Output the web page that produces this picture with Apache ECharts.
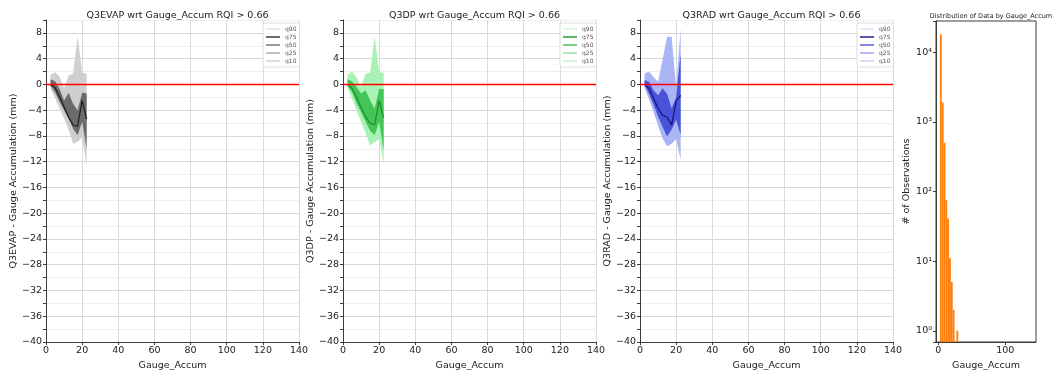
<!DOCTYPE html>
<html>
<head>
<meta charset="utf-8">
<script src="https://cdn.jsdelivr.net/npm/echarts@6/dist/echarts.min.js"></script>
<style>
  html, body { margin: 0; padding: 0; background: #fff; }
  #main { width: 1056px; height: 371px; }
</style>
</head>
<body>
<div id="main"></div>
<script>
// Gauge_Accum bin centres (mm)
const gaugeX = [2.5, 5, 7.5, 10, 12.5, 15, 17.5, 20, 22.5];

// Q3EVAP - gauge, quantiles per bin
const evapQ90 = [1.5, 1.9, 1.2, -0.6, 1.4, 1.7, 7.4, 1.8, 1.7];
const evapQ75 = [0.8, 0.5, -0.7, -2.5, -1.3, -3.0, -4.0, -1.3, -1.4];
const evapQ50 = [0.0, -0.5, -1.9, -3.5, -5.1, -6.3, -6.5, -2.5, -5.4];
const evapQ25 = [-0.2, -1.2, -2.7, -4.0, -5.3, -6.9, -7.9, -5.8, -10.0];
const evapQ10 = [-0.7, -2.1, -3.8, -5.3, -7.1, -9.2, -8.9, -8.2, -12.6];

// Q3DP - gauge
const dpQ90 = [1.5, 2.0, 1.1, -0.4, 1.7, 1.8, 7.5, 1.9, 1.8];
const dpQ75 = [0.8, 0.5, -0.4, -1.4, -0.9, -2.5, -3.8, -0.7, -0.7];
const dpQ50 = [0.0, -0.6, -2.0, -3.6, -5.0, -6.0, -6.3, -2.5, -5.2];
const dpQ25 = [-0.2, -1.2, -2.9, -4.3, -5.8, -7.2, -7.9, -5.8, -10.2];
const dpQ10 = [-0.5, -2.2, -4.0, -5.8, -7.6, -9.5, -9.0, -8.5, -12.3];

// Q3RAD - gauge
const radQ90 = [1.7, 2.0, 1.1, 0.4, 3.9, 7.4, 7.4, -0.5, 8.7];
const radQ75 = [0.7, 0.4, -0.9, -1.7, -0.6, -1.5, -3.7, -2.0, 4.8];
const radQ50 = [0.0, -0.6, -2.2, -3.7, -4.8, -5.1, -6.3, -2.6, -1.7];
const radQ25 = [-0.1, -1.5, -3.2, -5.0, -6.6, -8.1, -7.0, -5.5, -7.9];
const radQ10 = [-0.5, -2.3, -4.3, -6.4, -8.4, -9.6, -9.2, -8.5, -11.7];

// histogram of Gauge_Accum
const histEdges = [2.4, 5.1, 7.85, 10.6, 13.3, 16.0, 18.75, 21.5, 24.2, 26.95, 29.7];
const histCounts = [18000, 1900, 500, 75, 41, 11, 5, 2, 0, 1];

const legendNames = ['q90', 'q75', 'q50', 'q25', 'q10'];

const chart = echarts.init(document.getElementById('main'));

const FONT = 'DejaVu Sans';
const TXT = '#222';
const AXIS = '#3c3c3c';
const HIST_MIN = 0.69;

const panels = [
  {
    name: 'Q3EVAP', left: 46,
    q: { q90: evapQ90, q75: evapQ75, q50: evapQ50, q25: evapQ25, q10: evapQ10 },
    outer: '#cfcfcf', inner: '#6b6b6b', median: '#1c1c1c',
    legend: ['#e4e4e4', '#3a3a3a', '#777777', '#aaaaaa', '#d2d2d2']
  },
  {
    name: 'Q3DP', left: 343,
    q: { q90: dpQ90, q75: dpQ75, q50: dpQ50, q25: dpQ25, q10: dpQ10 },
    outer: '#a9f2b5', inner: '#43c657', median: '#1d8a2e',
    legend: ['#d2f8d6', '#2a9a3a', '#4cc060', '#93e4a0', '#c4f4cb']
  },
  {
    name: 'Q3RAD', left: 640,
    q: { q90: radQ90, q75: radQ75, q50: radQ50, q25: radQ25, q10: radQ10 },
    outer: '#aab5f6', inner: '#4953d8', median: '#13137e',
    legend: ['#dcdff9', '#1f1f8c', '#5862d8', '#9ea6ef', '#cfd3f8']
  }
];

function pairs(ys) {
  return gaugeX.map((x, i) => [x, ys[i]]);
}
function bandRows(lo, hi) {
  return gaugeX.map((x, i) => [x, lo[i], hi[i]]);
}
function minusSign(v) {
  return String(v).replace('-', '\u2212');
}

// fill between lo and hi as one polygon, through the axis scales
function bandSeries(name, i, rows, color) {
  return {
    name: name, type: 'custom', xAxisIndex: i, yAxisIndex: i, silent: true,
    data: rows, encode: { x: 0, y: [1, 2] },
    itemStyle: { color: color },
    renderItem: function (params, api) {
      if (params.dataIndex !== 0) return;
      const top = rows.map(r => api.coord([r[0], r[2]]));
      const bot = rows.map(r => api.coord([r[0], r[1]])).reverse();
      return { type: 'polygon', shape: { points: top.concat(bot) }, style: { fill: color } };
    }
  };
}

const grid = [], xAxis = [], yAxis = [], series = [], title = [], legend = [];

panels.forEach((p, i) => {
  grid.push({ left: p.left, top: 20, width: 253, height: 322, outerBoundsMode: 'none' });
  title.push({
    text: p.name + ' wrt Gauge_Accum RQI > 0.66',
    left: p.left + 126.5, top: 6, textAlign: 'center',
    textStyle: { fontFamily: FONT, fontSize: 9.5, fontWeight: 'normal', color: TXT }
  });
  xAxis.push({
    type: 'value', gridIndex: i, min: 0, max: 140, interval: 20,
    name: 'Gauge_Accum', nameLocation: 'middle', nameGap: 15,
    nameTextStyle: { fontFamily: FONT, fontSize: 9.5, color: TXT },
    axisLine: { onZero: false, lineStyle: { color: AXIS, width: 1 } },
    axisTick: { show: true, length: 3, lineStyle: { color: AXIS } },
    axisLabel: { fontFamily: FONT, fontSize: 9.5, color: TXT, margin: 4 },
    splitLine: { show: true, lineStyle: { color: '#dadada', width: 1 } }
  });
  yAxis.push({
    type: 'value', gridIndex: i, min: -40, max: 10, interval: 2,
    name: p.name + ' - Gauge Accumulation (mm)', nameLocation: 'middle', nameGap: 27,
    nameTextStyle: { fontFamily: FONT, fontSize: 9.5, color: TXT },
    axisLine: { show: true, onZero: false, lineStyle: { color: AXIS, width: 1 } },
    axisTick: { show: true, length: 3, lineStyle: { color: AXIS } },
    axisLabel: {
      fontFamily: FONT, fontSize: 9.5, color: TXT, margin: 4,
      formatter: v => (v % 4 === 0 && v !== 10) ? minusSign(v) : ''
    },
    splitLine: { show: true, lineStyle: { color: ['#d8d8d8', '#eeeeee'], width: 1 } }
  });

  series.push(bandSeries('q90', i, bandRows(p.q.q10, p.q.q90), p.outer));
  series.push(bandSeries('q75', i, bandRows(p.q.q25, p.q.q75), p.inner));
  series.push({
    name: 'q50', type: 'line', xAxisIndex: i, yAxisIndex: i, symbol: 'none', silent: true,
    data: pairs(p.q.q50),
    lineStyle: { color: p.median, width: 1.2 },
    markLine: {
      silent: true, symbol: ['none', 'none'], label: { show: false },
      lineStyle: { color: '#ff0000', width: 1.3, type: 'solid' },
      data: [{ yAxis: 0 }]
    }
  });
  // legend-only entries (their bands are drawn by the custom series above)
  series.push({ name: 'q25', type: 'line', xAxisIndex: i, yAxisIndex: i, data: [] });
  series.push({ name: 'q10', type: 'line', xAxisIndex: i, yAxisIndex: i, data: [] });

  legend.push({
    orient: 'vertical', left: p.left + 217, top: 23,
    padding: [3, 3], itemGap: 2, itemWidth: 14, itemHeight: 1.5,
    borderColor: '#dddddd', borderWidth: 1, borderRadius: 2, backgroundColor: '#fff',
    textStyle: { fontFamily: FONT, fontSize: 6, color: '#555' },
    selectedMode: false,
    data: legendNames.map((n, k) => ({
      name: n, icon: 'rect',
      itemStyle: { color: p.legend[k], borderWidth: 0, opacity: 1 }
    }))
  });
});

// histogram panel
const sup = ['\u2070', '\u00b9', '\u00b2', '\u00b3', '\u2074', '\u2075'];
grid.push({ left: 936, top: 21, width: 100, height: 321, outerBoundsMode: 'none',
            show: true, borderColor: AXIS, borderWidth: 1 });
title.push({
  text: 'Distribution of Data by Gauge_Accum', left: 986, top: 8, textAlign: 'center',
  textStyle: { fontFamily: FONT, fontSize: 6.5, fontWeight: 'normal', color: TXT }
});
xAxis.push({
  type: 'value', gridIndex: 3, min: -3.5, max: 146,
  name: 'Gauge_Accum', nameLocation: 'middle', nameGap: 15,
  nameTextStyle: { fontFamily: FONT, fontSize: 9.5, color: TXT },
  axisLine: { onZero: false, lineStyle: { color: AXIS } },
  axisTick: { show: true, length: 3, customValues: [0, 100], lineStyle: { color: AXIS } },
  axisLabel: { fontFamily: FONT, fontSize: 9.5, color: TXT, margin: 4, customValues: [0, 100],
               formatter: v => (v === 0 || v === 100) ? String(v) : '' },
  splitLine: { show: false }
});
yAxis.push({
  type: 'log', gridIndex: 3, logBase: 10, min: HIST_MIN, max: 28000,
  name: '# of Observations', nameLocation: 'middle', nameGap: 24,
  nameTextStyle: { fontFamily: FONT, fontSize: 9.5, color: TXT },
  axisLine: { show: true, onZero: false, lineStyle: { color: AXIS } },
  axisTick: { show: true, length: 3, lineStyle: { color: AXIS } },
  axisLabel: {
    fontFamily: FONT, fontSize: 9.5, color: TXT, margin: 4,
    formatter: v => {
      const e = Math.log10(v);
      const r = Math.round(e);
      return Math.abs(e - r) < 1e-6 ? '10' + sup[r] : '';
    }
  },
  splitLine: { show: false }
});
series.push({
  type: 'custom', xAxisIndex: 3, yAxisIndex: 3, silent: true,
  data: histCounts.map((c, i) => [histEdges[i], histEdges[i + 1], c]),
  encode: { x: [0, 1], y: 2 },
  renderItem: function (params, api) {
    const c = api.value(2);
    if (!c) return;
    const p0 = api.coord([api.value(0), c]);
    const p1 = api.coord([api.value(1), HIST_MIN]);
    return {
      type: 'rect',
      shape: { x: p0[0], y: p0[1], width: p1[0] - p0[0], height: p1[1] - p0[1] },
      style: { fill: '#ff7f0e' }
    };
  }
});

chart.setOption({
  animation: false,
  backgroundColor: '#fff',
  title, legend, grid, xAxis, yAxis, series
});
</script>
</body>
</html>
